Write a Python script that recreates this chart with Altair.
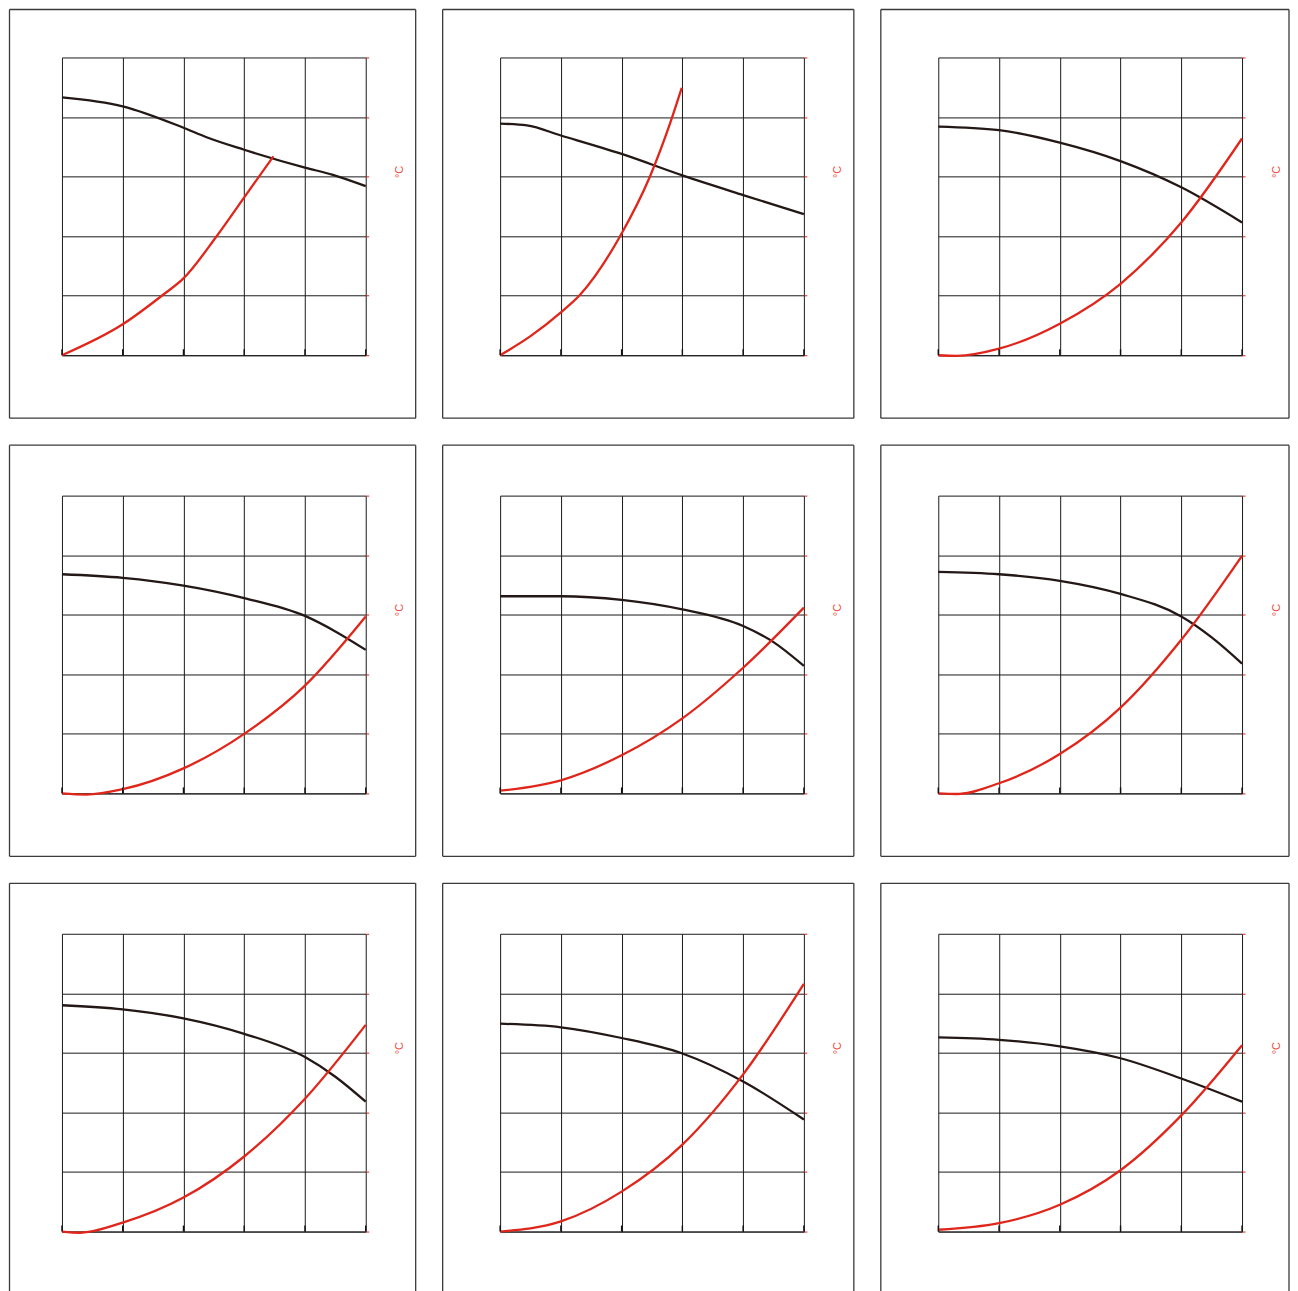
import altair as alt
import pandas as pd

# ---- data (grid units, 0..5 on both axes) ----
P1_BLACK_X = [0, 1, 2, 2.38, 3, 4, 4.46, 5]
P1_BLACK_Y = [4.33, 4.18, 3.82, 3.66, 3.45, 3.15, 3.03, 2.84]
P1_RED_X = [0, 1, 1.67, 2, 2.54, 3, 3.48]
P1_RED_Y = [0, 0.52, 1.02, 1.29, 1.99, 2.65, 3.34]

P2_BLACK_X = [0, 0.44, 1, 2, 3, 4, 5]
P2_BLACK_Y = [3.89, 3.86, 3.69, 3.38, 3.02, 2.69, 2.37]
P2_RED_X = [0, 0.5, 1, 1.32, 1.97, 2.47, 2.8, 2.99]
P2_RED_Y = [0, 0.32, 0.72, 1.02, 1.99, 3.01, 3.9, 4.49]

P3_BLACK_X = [0, 1, 2, 3, 4, 5]
P3_BLACK_Y = [3.84, 3.78, 3.57, 3.26, 2.82, 2.23]
P3_RED_X = [0, 0.3, 1, 2, 3, 4, 5]
P3_RED_Y = [0, -0.01, 0.11, 0.53, 1.20, 2.23, 3.64]

P4_BLACK_X = [0, 1, 2, 3, 4, 4.5, 5]
P4_BLACK_Y = [3.68, 3.62, 3.49, 3.28, 2.98, 2.72, 2.41]
P4_RED_X = [0, 0.4, 1, 2, 3, 4, 5]
P4_RED_Y = [0, -0.02, 0.07, 0.42, 1.0, 1.81, 2.97]

P5_BLACK_X = [0, 1, 2, 3, 4, 4.5, 5]
P5_BLACK_Y = [3.31, 3.31, 3.25, 3.09, 2.81, 2.54, 2.14]
P5_RED_X = [0, 1, 2, 3, 4, 5]
P5_RED_Y = [0.045, 0.22, 0.64, 1.26, 2.11, 3.12]

P6_BLACK_X = [0, 1, 2, 3, 4, 4.5, 5]
P6_BLACK_Y = [3.72, 3.68, 3.57, 3.35, 2.97, 2.62, 2.18]
P6_RED_X = [0, 0.3, 1, 2, 3, 4, 5]
P6_RED_Y = [0, -0.01, 0.17, 0.66, 1.44, 2.58, 3.99]

P7_BLACK_X = [0, 1, 2, 3, 4, 4.5, 5]
P7_BLACK_Y = [3.80, 3.73, 3.58, 3.32, 2.93, 2.60, 2.18]
P7_RED_X = [0, 0.3, 1, 2, 3, 4, 5]
P7_RED_Y = [0, -0.02, 0.15, 0.57, 1.26, 2.23, 3.47]

P8_BLACK_X = [0, 1, 2, 3, 4, 5]
P8_BLACK_Y = [3.49, 3.43, 3.25, 2.99, 2.52, 1.88]
P8_RED_X = [0, 1, 2, 3, 4, 5]
P8_RED_Y = [0, 0.17, 0.67, 1.46, 2.64, 4.16]

P9_BLACK_X = [0, 1, 2, 3, 4, 5]
P9_BLACK_Y = [3.26, 3.22, 3.11, 2.91, 2.57, 2.18]
P9_RED_X = [0, 1, 2, 3, 4, 5]
P9_RED_Y = [0.03, 0.14, 0.45, 1.03, 1.95, 3.13]

GRID_TICKS = [0, 1, 2, 3, 4, 5]
UNIT_LABEL = "°C"

PANELS = [
    (P1_BLACK_X, P1_BLACK_Y, P1_RED_X, P1_RED_Y),
    (P2_BLACK_X, P2_BLACK_Y, P2_RED_X, P2_RED_Y),
    (P3_BLACK_X, P3_BLACK_Y, P3_RED_X, P3_RED_Y),
    (P4_BLACK_X, P4_BLACK_Y, P4_RED_X, P4_RED_Y),
    (P5_BLACK_X, P5_BLACK_Y, P5_RED_X, P5_RED_Y),
    (P6_BLACK_X, P6_BLACK_Y, P6_RED_X, P6_RED_Y),
    (P7_BLACK_X, P7_BLACK_Y, P7_RED_X, P7_RED_Y),
    (P8_BLACK_X, P8_BLACK_Y, P8_RED_X, P8_RED_Y),
    (P9_BLACK_X, P9_BLACK_Y, P9_RED_X, P9_RED_Y),
]

W, H = 304, 298
BLACK = "#231815"
RED = "#e0261b"
GRID = "#1a1a1a"
FRAME = "#3a3a3a"


def make_panel(idx, bx, by, rx, ry):
    col, row = idx % 3, idx // 3
    xs = alt.Scale(domain=[0, 5], nice=False, zero=False)
    ys = alt.Scale(domain=[0, 5], nice=False, zero=False)
    x_enc = alt.X(
        "x:Q", scale=xs,
        axis=alt.Axis(values=GRID_TICKS, grid=True, gridColor=GRID, gridWidth=1,
                      gridOpacity=1, labels=False, ticks=False, domain=True,
                      domainColor=GRID, domainWidth=1, title=None),
    )
    y_enc = alt.Y(
        "y:Q", scale=ys,
        axis=alt.Axis(orient="right", values=GRID_TICKS, grid=True, gridColor=GRID,
                      gridWidth=1, gridOpacity=1, labels=False, ticks=True,
                      tickColor=RED, tickSize=3, tickWidth=1, domain=False,
                      title=UNIT_LABEL, titleColor="#ee4a40", titleFontSize=11,
                      titleFontWeight="normal", titleFont="Liberation Sans",
                      titleAngle=270, titleAlign="center", titleBaseline="middle",
                      titleX=34, titleY=114),
    )

    black_df = pd.DataFrame({"x": bx, "y": by})
    red_df = pd.DataFrame({"x": rx, "y": ry})
    tick_df = pd.DataFrame({"x": GRID_TICKS})
    frame_df = pd.DataFrame({"f": [0]})

    left = -52.5 if col == 0 else -57.5
    right = 354 if col < 2 else 351
    top = -48 if row == 0 else -50.5
    bottom = 361
    fstyle = dict(color=FRAME, strokeWidth=1.3)
    base = alt.Chart(frame_df)
    frame_parts = [
        base.mark_rule(**fstyle).encode(x=alt.value(left), y=alt.value(top), y2=alt.value(bottom)),
        base.mark_rule(**fstyle).encode(x=alt.value(right), y=alt.value(top), y2=alt.value(bottom)),
        base.mark_rule(**fstyle).encode(x=alt.value(left), x2=alt.value(right), y=alt.value(top)),
        base.mark_rule(**fstyle).encode(x=alt.value(left), x2=alt.value(right), y=alt.value(bottom)),
    ]
    black = alt.Chart(black_df).mark_line(
        color=BLACK, strokeWidth=2.3, interpolate="monotone"
    ).encode(x=x_enc, y=y_enc)
    red = alt.Chart(red_df).mark_line(
        color=RED, strokeWidth=2.3, interpolate="monotone"
    ).encode(x=x_enc, y=y_enc)
    ticks = alt.Chart(tick_df).mark_rule(color="#111111", strokeWidth=1.4).encode(
        x=x_enc, y=alt.value(H - 6), y2=alt.value(H)
    )
    return alt.layer(*frame_parts, black, red, ticks).properties(width=W, height=H)


charts = [make_panel(i, *p) for i, p in enumerate(PANELS)]

chart = alt.concat(
    *charts, columns=3, spacing={"row": 140.5, "column": 134.5}, bounds="flush"
).properties(padding=0).configure_view(stroke=None)

chart.save("out.html", embed_options={"renderer": "svg", "actions": False})
